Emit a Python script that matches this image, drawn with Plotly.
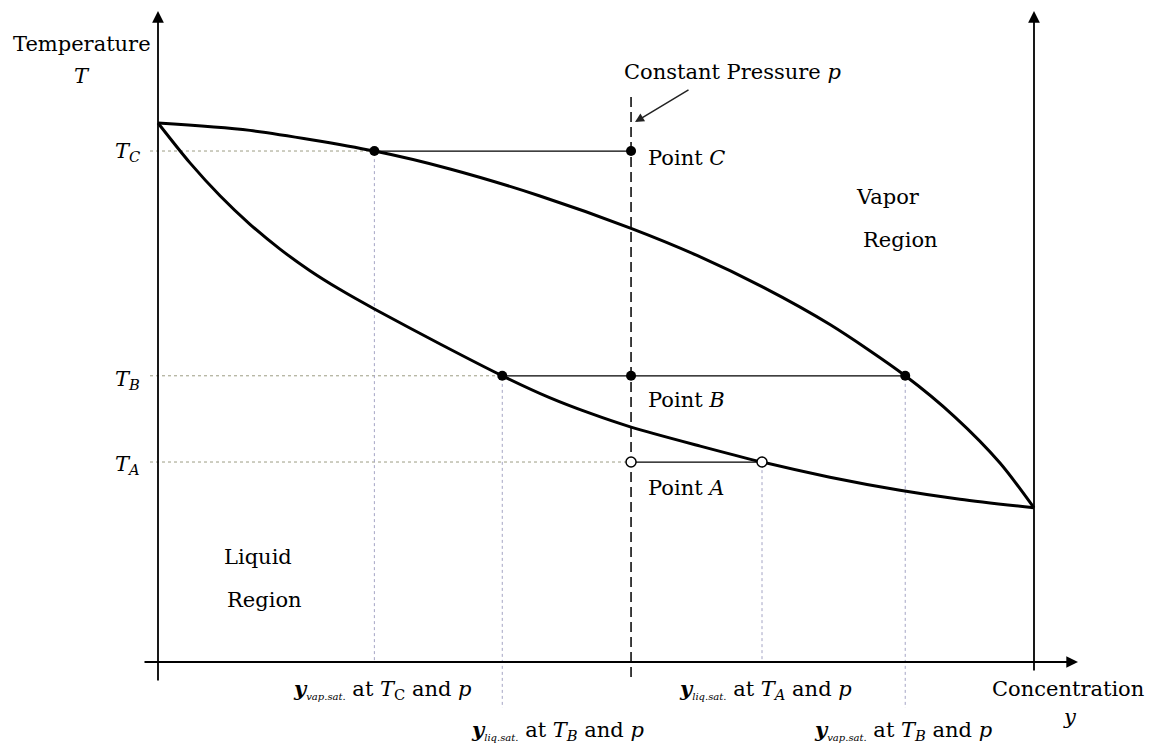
import plotly.graph_objects as go

# ---------------- data (concentration y in [0,1], temperature normalised) ----------------
dew_y = [0.000, 0.105, 0.247, 0.3333, 0.436, 0.540, 0.6153, 0.6906, 0.7671, 0.853, 0.9098, 0.9612, 1.000]
dew_T = [1.000, 0.9863, 0.948, 0.9147, 0.8646, 0.8046, 0.7544, 0.6955, 0.6260, 0.531, 0.4544, 0.3692, 0.286]

bub_y = [0.000, 0.0365, 0.0708, 0.105, 0.1393, 0.1735, 0.2078, 0.247, 0.322, 0.393, 0.447,
         0.493, 0.540, 0.619, 0.6895, 0.767, 0.847, 0.9155, 1.000]
bub_T = [1.000, 0.926, 0.865, 0.812, 0.766, 0.726, 0.691, 0.655, 0.590, 0.531, 0.4905,
         0.4616, 0.4358, 0.4006, 0.371, 0.3429, 0.3187, 0.3020, 0.286]

T_levels = [0.948, 0.531, 0.371]            # T_C, T_B, T_A
T_names = ["C", "B", "A"]
y_pressure = 0.540                           # constant pressure line
y_vap_TC = 0.247
y_liq_TB = 0.393
y_vap_TB = 0.853
y_liq_TA = 0.6895

# ---------------- layout helpers (page pixels -> data / paper) ----------------
OFF = 8                       # default page margin around the plot
W, H = 1146, 736
X0PX, X1PX = 158, 1034        # concentration 0 and 1 (page px)
T0PX, T1PX = 662, 123         # temperature 0 and 1 (page px)
def cx(px):
    return (px - X0PX) / (X1PX - X0PX)
def ty(py):
    return (T0PX - py) / (T0PX - T1PX)
def px2paper(px, py):
    return (px - OFF) / W, 1 - (py - OFF) / H

FONT = "DejaVu Serif"
FS = 21
BLACK = "black"

fig = go.Figure()

# dotted guide lines (horizontal)
for T, xend in zip(T_levels, [y_vap_TC, y_liq_TB, y_pressure]):
    fig.add_trace(go.Scatter(x=[cx(150), xend], y=[T, T], mode="lines",
                             line=dict(color="#9c9c84", width=1, dash="dot"), hoverinfo="skip"))
# dotted guide lines (vertical)
for xv, Ttop, pybot in [(y_vap_TC, T_levels[0], 662), (y_liq_TB, T_levels[1], 708),
                        (y_liq_TA, T_levels[2], 662), (y_vap_TB, T_levels[1], 708)]:
    fig.add_trace(go.Scatter(x=[xv, xv], y=[Ttop - 0.015, ty(pybot)], mode="lines",
                             line=dict(color="#a4a4c4", width=1, dash="dot"), hoverinfo="skip"))

# tie lines
for x0, x1, T in [(y_vap_TC, y_pressure, T_levels[0]), (y_liq_TB, y_vap_TB, T_levels[1]),
                  (y_pressure, y_liq_TA, T_levels[2])]:
    fig.add_trace(go.Scatter(x=[x0, x1], y=[T, T], mode="lines",
                             line=dict(color=BLACK, width=1.3), hoverinfo="skip"))

# constant pressure dashed line
fig.add_trace(go.Scatter(x=[y_pressure, y_pressure], y=[ty(97), ty(677)], mode="lines",
                         line=dict(color=BLACK, width=1.5, dash="10px,5px"), hoverinfo="skip"))

# saturation curves
fig.add_trace(go.Scatter(x=dew_y, y=dew_T, mode="lines",
                         line=dict(color=BLACK, width=3, shape="spline", smoothing=0.8), hoverinfo="skip"))
fig.add_trace(go.Scatter(x=bub_y, y=bub_T, mode="lines",
                         line=dict(color=BLACK, width=3, shape="spline", smoothing=0.8), hoverinfo="skip"))

# points
fig.add_trace(go.Scatter(x=[y_vap_TC, y_pressure, y_liq_TB, y_pressure, y_vap_TB],
                         y=[T_levels[0], T_levels[0], T_levels[1], T_levels[1], T_levels[1]],
                         mode="markers", marker=dict(color=BLACK, size=10), hoverinfo="skip"))
fig.add_trace(go.Scatter(x=[y_pressure, y_liq_TA], y=[T_levels[2], T_levels[2]],
                         mode="markers", marker=dict(color="white", size=10, line=dict(color=BLACK, width=1.5)),
                         hoverinfo="skip"))

annotations = []
# axes with arrows
for (hx, hy, tx, tyv) in [(0, ty(11), 0, ty(682)), (1, ty(11), 1, ty(672)), (cx(1078), 0, cx(143), 0)]:
    annotations.append(dict(x=hx, y=hy, ax=tx, ay=tyv, xref="x", yref="y", axref="x", ayref="y",
                            showarrow=True, arrowhead=2, arrowsize=1.3, arrowwidth=1.8,
                            arrowcolor=BLACK, standoff=0, startstandoff=0, text=""))
# constant pressure arrow
annotations.append(dict(x=cx(635), y=ty(122), ax=cx(690), ay=ty(89), xref="x", yref="y", axref="x", ayref="y",
                        showarrow=True, arrowhead=2, arrowsize=1.2, arrowwidth=1.5, arrowcolor="#222",
                        standoff=0, text=""))

def label(text, px, py, xanchor="center", size=FS):
    xp, yp = px2paper(px, py)
    annotations.append(dict(x=xp, y=yp, xref="paper", yref="paper", text=text, showarrow=False,
                            xanchor=xanchor, yanchor="middle", font=dict(family=FONT, size=size, color=BLACK)))

label("Temperature", 82, 44)
label("<i>T</i>", 82, 76)
for name, py in zip(T_names, [152, 380, 465]):
    label("<i>T</i><sub><i>%s</i></sub>" % name, 142, py, xanchor="right")
label("Constant Pressure <i>p</i>", 732, 72)
label("Point <i>C</i>", 646, 158, xanchor="left")
label("Point <i>B</i>", 646, 400, xanchor="left")
label("Point <i>A</i>", 646, 488, xanchor="left")
label("Vapor", 888, 197)
label("Region", 900, 240)
label("Liquid", 258, 557)
label("Region", 264, 600)
sub = '<sub><i><span style="font-size:10px">%s</span></i></sub>'
label("<b><i>y</i></b>" + sub % "vap.sat." + " at <i>T</i><sub>C</sub> and <i>p</i>", 382, 689)
label("<b><i>y</i></b>" + sub % "liq.sat." + " at <i>T<sub>B</sub></i> and <i>p</i>", 557, 730)
label("<b><i>y</i></b>" + sub % "liq.sat." + " at <i>T<sub>A</sub></i> and <i>p</i>", 765, 689)
label("<b><i>y</i></b>" + sub % "vap.sat." + " at <i>T<sub>B</sub></i> and <i>p</i>", 903, 730)
label("Concentration", 1068, 689)
label("<i>y</i>", 1070, 717)

fig.update_layout(
    width=W, height=H, margin=dict(l=0, r=0, t=0, b=0),
    paper_bgcolor="white", plot_bgcolor="white", showlegend=False,
    xaxis=dict(range=[cx(OFF), cx(OFF + W)], visible=False, fixedrange=True),
    yaxis=dict(range=[ty(OFF + H), ty(OFF)], visible=False, fixedrange=True),
    annotations=annotations,
)

fig.write_html("out.html")
